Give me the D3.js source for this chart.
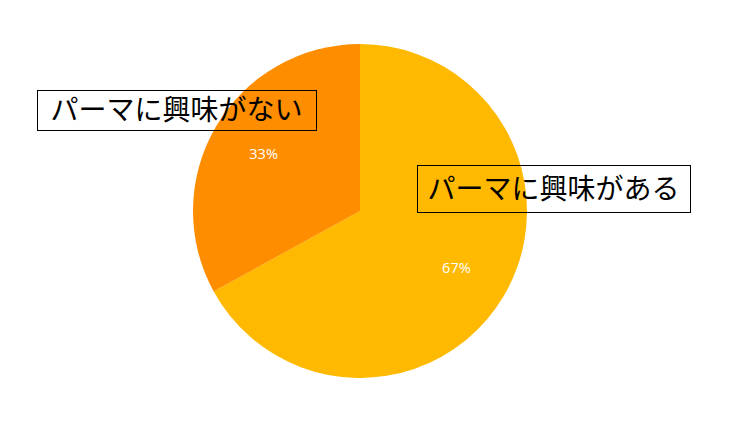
<!DOCTYPE html>
<html><head><meta charset="utf-8">
<script src="https://cdn.jsdelivr.net/npm/d3@7"></script>
<style>body{margin:0;background:#fff}svg{display:block}</style>
</head><body>
<svg id="c" width="737" height="424"></svg>
<script>
const categories = ["パーマに興味がある", "パーマに興味がない"];
const values = [67, 33];
const colors = ["#FFB900", "#FF8D00"];

const svg = d3.select("#c");
const cx = 360, cy = 211, R = 167, labelR = 112;
const g = svg.append("g").attr("transform", `translate(${cx},${cy})`);
const pie = d3.pie().sort(null).value(d => d)(values);
const arc = d3.arc().innerRadius(0).outerRadius(R);
const lArc = d3.arc().innerRadius(labelR).outerRadius(labelR);
const total = d3.sum(values);

g.selectAll("path").data(pie).join("path")
  .attr("d", arc).attr("fill", (d, i) => colors[i]);

g.selectAll("text.pct").data(pie).join("text")
  .attr("class", "pct")
  .attr("transform", d => `translate(${lArc.centroid(d)})`)
  .attr("text-anchor", "middle").attr("dy", "0.35em")
  .attr("fill", "#fff")
  .style("font-family", "'Open Sans', 'Liberation Sans', Arial, sans-serif")
  .style("font-weight", 400)
  .style("font-size", "14.5px")
  .text(d => Math.round(d.data / total * 100) + "%");

// callout boxes
const boxes = [
  {x: 417, y: 165, w: 273, h: 47},
  {x: 37, y: 90, w: 279, h: 40}
];
categories.forEach((c, i) => {
  const b = boxes[i];
  svg.append("rect").attr("x", b.x + 0.5).attr("y", b.y + 0.5)
    .attr("width", b.w).attr("height", b.h)
    .attr("fill", "none").attr("stroke", "#000").attr("stroke-width", 1);
  svg.append("text").attr("x", b.x + b.w / 2).attr("y", b.y + b.h / 2)
    .attr("text-anchor", "middle").attr("dy", "0.36em")
    .style("font-family", "'Noto Sans CJK JP', sans-serif")
    .style("font-weight", 400)
    .style("font-size", "28px").attr("fill", "#000")
    .text(c);
});
</script>
</body></html>
